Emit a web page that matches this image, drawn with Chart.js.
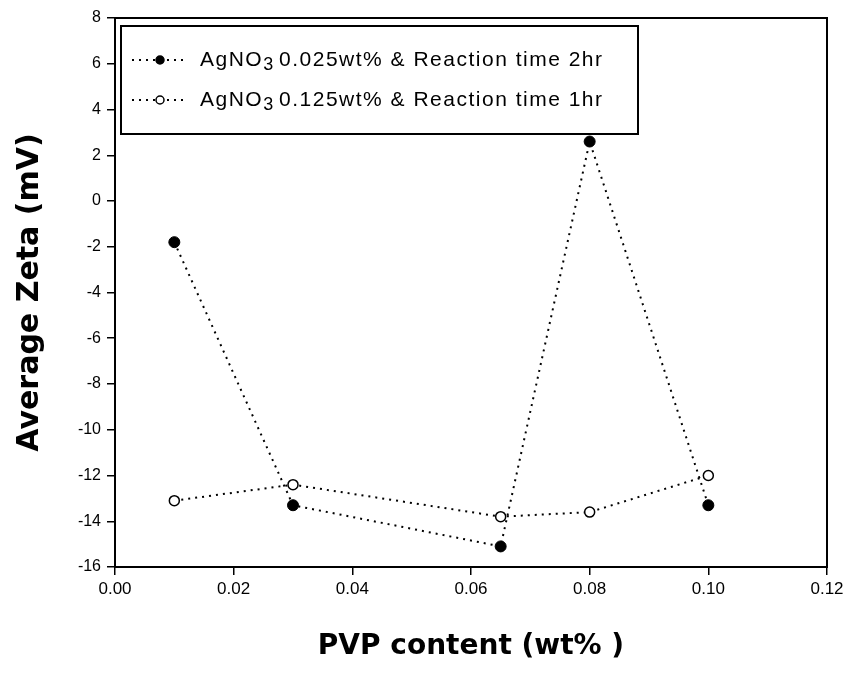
<!DOCTYPE html>
<html>
<head>
<meta charset="utf-8">
<script src="https://cdn.jsdelivr.net/npm/chart.js@4"></script>
<style>
  html, body { margin: 0; padding: 0; background: #fff; }
  #wrap { width: 850px; height: 678px; }
</style>
</head>
<body>
<div id="wrap"><canvas id="zetaChart"></canvas></div>
<script>
// data
const pvpContent = [0.01, 0.03, 0.065, 0.08, 0.10];
const zetaAg025 = [-1.8, -13.3, -15.1, 2.6, -13.3];
const zetaAg125 = [-13.1, -12.4, -13.8, -13.6, -12.0];
const xTicks = [0.00, 0.02, 0.04, 0.06, 0.08, 0.10, 0.12];
const yTicks = [8, 6, 4, 2, 0, -2, -4, -6, -8, -10, -12, -14, -16];
const seriesLabels = ['AgNO₃ 0.025wt% & Reaction time 2hr', 'AgNO₃ 0.125wt% & Reaction time 1hr'];

const toPoints = (ys) => pvpContent.map((x, i) => ({ x: x, y: ys[i] }));

// frame round the plot + legend box inside the plot
const framePlugin = {
  id: 'frame',
  afterDraw(chart) {
    const { ctx, chartArea: a } = chart;
    ctx.save();
    ctx.strokeStyle = '#000';
    ctx.lineWidth = 2;
    ctx.strokeRect(a.left, a.top, a.right - a.left, a.bottom - a.top);

    // legend
    const bx = a.left + 6, by = a.top + 8, bw = 517, bh = 108;
    ctx.fillStyle = '#fff';
    ctx.fillRect(bx, by, bw, bh);
    ctx.strokeRect(bx, by, bw, bh);
    chart.data.datasets.forEach((ds, i) => {
      const y = by + 34 + i * 40;
      ctx.beginPath();
      ctx.setLineDash(ds.borderDash);
      ctx.lineWidth = ds.borderWidth;
      ctx.moveTo(bx + 11, y);
      ctx.lineTo(bx + 66, y);
      ctx.stroke();
      ctx.setLineDash([]);
      ctx.beginPath();
      ctx.arc(bx + 39, y, 4, 0, Math.PI * 2);
      ctx.fillStyle = ds.pointBackgroundColor;
      ctx.fill();
      ctx.lineWidth = 1.5;
      ctx.stroke();

      // text with subscript 3
      ctx.fillStyle = '#000';
      ctx.textBaseline = 'middle';
      ctx.letterSpacing = '1.5px';
      let tx = bx + 79;
      const parts = ds.label.split('₃');
      ctx.font = '21px "Liberation Sans", Arial, sans-serif';
      ctx.fillText(parts[0], tx, y);
      tx += ctx.measureText(parts[0]).width;
      ctx.font = '18px "Liberation Sans", Arial, sans-serif';
      ctx.fillText('3', tx, y + 5);
      tx += ctx.measureText('3').width - 3;
      ctx.font = '21px "Liberation Sans", Arial, sans-serif';
      ctx.fillText(parts[1], tx, y);
    });
    ctx.restore();
  }
};

const ctx = document.getElementById('zetaChart').getContext('2d');

const chart = new Chart(ctx, {
  type: 'line',
  data: {
    datasets: [{
      label: seriesLabels[0],
      data: toPoints(zetaAg025),
      borderColor: '#000',
      borderWidth: 2,
      borderDash: [2, 5],
      pointRadius: 5.5,
      pointBackgroundColor: '#000',
      pointBorderColor: '#000',
      pointBorderWidth: 1,
      tension: 0
    }, {
      label: seriesLabels[1],
      data: toPoints(zetaAg125),
      borderColor: '#000',
      borderWidth: 2,
      borderDash: [2, 5],
      pointRadius: 5,
      pointBackgroundColor: '#fff',
      pointBorderColor: '#000',
      pointBorderWidth: 1.5,
      tension: 0
    }]
  },
  options: {
    responsive: true,
    maintainAspectRatio: false,
    animation: false,
    layout: { padding: { top: 18, right: 23, left: 0, bottom: 0 } },
    plugins: {
      legend: { display: false },
      tooltip: { enabled: false }
    },
    scales: {
      x: {
        type: 'linear',
        min: xTicks[0],
        max: xTicks[xTicks.length - 1],
        afterBuildTicks: (axis) => { axis.ticks = xTicks.map(v => ({ value: v })); },
        afterFit: (axis) => { axis.height = 111; },
        grid: { drawOnChartArea: false, color: '#000', tickLength: 8, lineWidth: 1.5 },
        border: { color: '#000', width: 2 },
        ticks: {
          color: '#000',
          padding: 4,
          font: { family: '"Liberation Sans", Arial, sans-serif', size: 17 },
          callback: (v) => Number(v).toFixed(2)
        },
        title: {
          display: true,
          text: 'PVP content (wt% )',
          color: '#000',
          padding: { top: 4, bottom: 14 },
          font: { family: '"DejaVu Sans", sans-serif', size: 28, weight: 'bold' }
        }
      },
      y: {
        min: -16,
        max: 8,
        afterBuildTicks: (axis) => { axis.ticks = yTicks.map(v => ({ value: v })); },
        afterFit: (axis) => { axis.width = 115; },
        grid: { drawOnChartArea: false, color: '#000', tickLength: 8, lineWidth: 1.5 },
        border: { color: '#000', width: 2 },
        ticks: {
          color: '#000',
          padding: 6,
          font: { family: '"Liberation Sans", Arial, sans-serif', size: 16 }
        },
        title: {
          display: true,
          text: 'Average Zeta (mV)',
          color: '#000',
          padding: { top: 12, bottom: 2 },
          font: { family: '"DejaVu Sans", sans-serif', size: 30, weight: 'bold' }
        }
      }
    }
  },
  plugins: [framePlugin]
});
</script>
</body>
</html>
